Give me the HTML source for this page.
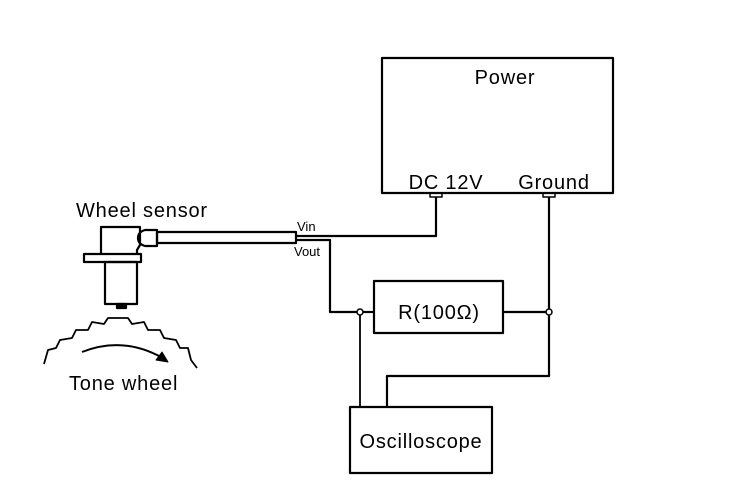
<!DOCTYPE html>
<html><head><style>
html,body{margin:0;padding:0;background:#fff;}
svg{display:block}
text{font-family:"Liberation Sans",sans-serif;fill:#000}
.b{font-size:20px;letter-spacing:0.8px}
</style></head><body>
<svg width="736" height="498" viewBox="0 0 736 498" xmlns="http://www.w3.org/2000/svg">
<g fill="none" stroke="#000" stroke-width="2.2" stroke-linejoin="round">
<rect x="382" y="58" width="231" height="135"/>
<rect x="374" y="281" width="129" height="52"/>
<rect x="350" y="407" width="142" height="66"/>
<rect x="430" y="193" width="12" height="4" stroke-width="1.5"/>
<rect x="543" y="193" width="12" height="4" stroke-width="1.5"/>
<polyline points="436,197 436,236 296,236"/>
<polyline points="296,240 330,240 330,312 357,312"/>
<line x1="363" y1="312" x2="374" y2="312"/>
<line x1="503" y1="312" x2="546" y2="312"/>
<polyline points="549,197 549,309"/>
<polyline points="549,315 549,376 387,376 387,407"/>
<line x1="360" y1="315" x2="360" y2="407" stroke-width="1.8"/>
<circle cx="360" cy="312" r="3" stroke-width="1.5" fill="#fff"/>
<circle cx="549" cy="312" r="3" stroke-width="1.5" fill="#fff"/>
<path d="M101 253 L101 227 L140 227 L140 245 L137 250 L137 253"/>
<path d="M152 230 L145 230 Q138 232 138 238 Q138 244 145 246 L157 246 L157 230 Z"/>
<rect x="157" y="232" width="139" height="11"/>
<rect x="84" y="254" width="57" height="8"/>
<rect x="105" y="262" width="32" height="42"/>
<rect x="117" y="304" width="9" height="4" fill="#000"/>
<path d="M44,364 L48,350 L56,348 L60,340 L72,338 L76,330 L88,330 L92,322 L104,324 L108,318 L128,318 L132,324 L144,322 L148,330 L160,330 L164,338 L176,340 L180,348 L188,348 L191,360 L197,368" stroke-width="1.8"/>
<path d="M82,352 Q125,335 166,360" stroke-width="2"/>
<path d="M168,362 L156,360 L162,352 Z" fill="#000" stroke-width="1"/>
</g>
<text x="505" y="84" class="b" text-anchor="middle">Power</text>
<text x="446" y="189" class="b" text-anchor="middle">DC 12V</text>
<text x="554" y="189" class="b" text-anchor="middle">Ground</text>
<text x="439" y="319" class="b" text-anchor="middle">R(100Ω)</text>
<text x="421" y="448" class="b" text-anchor="middle">Oscilloscope</text>
<text x="76" y="217" class="b">Wheel sensor</text>
<text x="69" y="390" class="b">Tone wheel</text>
<text x="297" y="231" font-size="13">Vin</text>
<text x="294" y="256" font-size="13">Vout</text>
</svg>
</body></html>
